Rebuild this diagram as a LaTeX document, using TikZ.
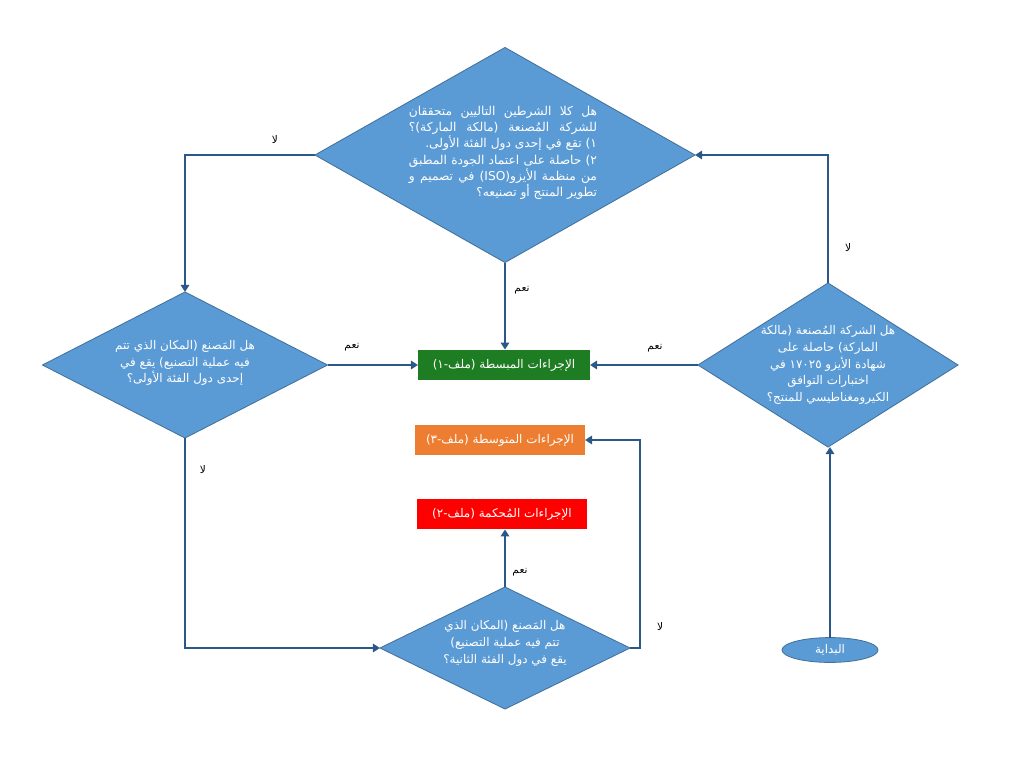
\documentclass[tikz,border=0pt]{standalone}
\usepackage{fontspec}
\setmainfont{Liberation Sans}
\newfontfamily\arabicfont[Script=Arabic]{DejaVu Sans}
\TeXXeTstate=1
\usetikzlibrary{shapes.geometric,calc,arrows.meta}
\definecolor{qblue}{HTML}{5B9BD5}
\definecolor{qedge}{HTML}{41719C}
\definecolor{flow}{HTML}{2C5889}
\definecolor{simplegreen}{HTML}{1E7D22}
\definecolor{midorange}{HTML}{ED7D31}
\definecolor{strictred}{HTML}{FF0000}
\newcommand{\fullline}[1]{\hbox to 4.7cm{#1}}

\begin{document}
\begin{tikzpicture}[x=0.025cm,y=-0.025cm,
    every node/.style={inner sep=1,outer sep=0},
    ask/.style={diamond,draw=qedge,fill=qblue,line width=0.6pt,inner sep=0},
    qtext/.style={text=white,font=\arabicfont\fontsize{8.5}{12}\selectfont},
    stepbox/.style={rectangle,minimum width=4.25cm,minimum height=0.77cm,text=white,font=\arabicfont\fontsize{8.5}{10}\selectfont},
    answer/.style={font=\arabicfont\fontsize{7.5}{9}\selectfont},
    flowline/.style={draw=flow,line width=1.7pt,-{Triangle[length=5pt,width=6pt]}}]
    \useasboundingbox (0,0) rectangle (1024,768);

    \node[ask,minimum width=9.5cm,minimum height=5.375cm,
      label={[qtext,font=\arabicfont\fontsize{8.7}{11.6}\selectfont,align=right,xshift=-0.05cm,yshift=0.05cm]center:{\fullline{\beginR هل كلا الشرطين التاليين متحققان\endR}\\\fullline{\beginR للشركة المُصنعة (مالكة الماركة)؟\endR}\\\beginR ١) تقع في إحدى دول الفئة الأولى.\endR\\\fullline{\beginR ٢) حاصلة على اعتماد الجودة المطبق\endR}\\\fullline{\beginR من منظمة الأيزو\beginL(ISO)\endL{} في تصميم و\endR}\\\beginR تطوير المنتج أو تصنيعه؟\endR}}] (both) at (505,155) {};
    \node[ask,minimum width=6.5cm,minimum height=4.1cm,
      label={[qtext,align=center]center:{\beginR هل الشركة المُصنعة (مالكة\endR\\\beginR الماركة) حاصلة على\endR\\\beginR شهادة الأيزو ١٧٠٢٥ في\endR\\\beginR اختبارات التوافق\endR\\\beginR الكيرومغناطيسي للمنتج؟\endR}}] (emc) at (828,365) {};
    \node[ask,minimum width=7.125cm,minimum height=3.65cm,
      label={[qtext,align=center,yshift=0.05cm]center:{\beginR هل المَصنع (المكان الذي تتم\endR\\\beginR فيه عملية التصنيع) يقع في\endR\\\beginR إحدى دول الفئة الأولى؟\endR}}] (plant1) at (185,365) {};
    \node[ask,minimum width=6.25cm,minimum height=3.05cm,
      label={[qtext,align=center,yshift=0.12cm]center:{\beginR هل المَصنع (المكان الذي\endR\\\beginR تتم فيه عملية التصنيع)\endR\\\beginR يقع في دول الفئة الثانية؟\endR}}] (plant2) at (505,648) {};

    \node[stepbox,fill=simplegreen,minimum width=4.3cm] (simple) at (504,365) {\beginR الإجراءات المبسطة (ملف-١)\endR};
    \node[stepbox,fill=midorange] (medium) at (500,440) {\beginR الإجراءات المتوسطة (ملف-٣)\endR};
    \node[stepbox,fill=strictred] (strict) at (502,514) {\beginR الإجراءات المُحكمة (ملف-٢)\endR};
    \node[ellipse,draw=qedge,fill=qblue,line width=0.6pt,minimum width=2.4cm,minimum height=0.62cm,text=white,font=\arabicfont\fontsize{8.5}{10}\selectfont] (start) at (830,650) {\beginR البداية\endR};

    \draw[flowline] (start.north) -- (start.north |- emc.south);
    \draw[flowline] (emc.north) |- (both.east); \node[answer] (no1) at (848,248) {\beginR لا\endR};
    \draw[flowline] (emc.west) -- (simple.east); \node[answer] (yes1) at (655,348) {\beginR نعم\endR};
    \draw[flowline] (both.south) -- (both.south |- simple.north); \node[answer] (yes2) at (522,290) {\beginR نعم\endR};
    \draw[flowline] (both.west) -| (plant1.north); \node[answer] (no2) at (275,140) {\beginR لا\endR};
    \draw[flowline] (plant1.east) -- (simple.west); \node[answer] (yes3) at (352,347) {\beginR نعم\endR};
    \draw[flowline] (plant1.south) |- (plant2.west); \node[answer] (no3) at (203,470) {\beginR لا\endR};
    \draw[flowline] (plant2.north) -- (plant2.north |- strict.south); \node[answer] (yes4) at (520,572) {\beginR نعم\endR};
    \coordinate (turn) at (640,440);
    \draw[flowline] (plant2.east) -| (turn) -- (medium.east); \node[answer] (no4) at (660,627) {\beginR لا\endR};
\end{tikzpicture}
\end{document}
